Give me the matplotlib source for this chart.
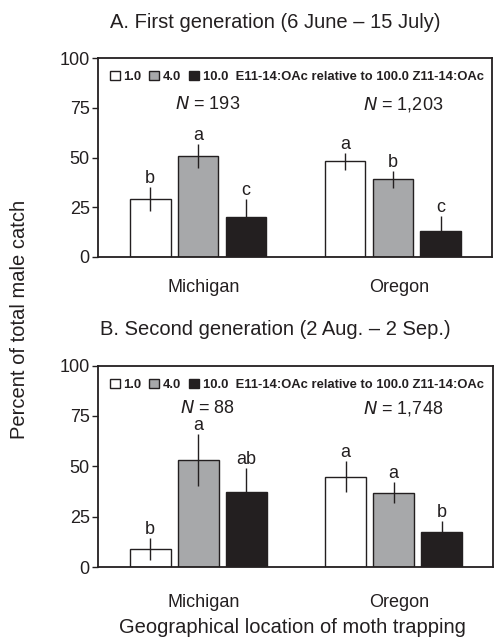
import numpy as np
import matplotlib
matplotlib.use('Agg')
import matplotlib.pyplot as plt

plt.rcParams['font.family'] = 'Liberation Sans'
plt.rcParams['text.color'] = '#231f20'
plt.rcParams['axes.edgecolor'] = '#231f20'
plt.rcParams['xtick.color'] = '#231f20'
plt.rcParams['ytick.color'] = '#231f20'

locations = ['Michigan', 'Oregon']
ratios = ['1.0', '4.0', '10.0']
bar_colors = ['white', '#a7a8aa', '#231f20']

# panel A: first generation
gen1_mean = {'1.0': [29.3, 48.1], '4.0': [50.9, 39.0], '10.0': [19.9, 13.1]}
gen1_se = {'1.0': [6.0, 4.4], '4.0': [6.0, 4.2], '10.0': [9.1, 7.5]}
gen1_letters = {'1.0': ['b', 'a'], '4.0': ['a', 'b'], '10.0': ['c', 'c']}
gen1_n = ['193', '1,203']

# panel B: second generation
gen2_mean = {'1.0': [9.1, 45.0], '4.0': [53.2, 37.1], '10.0': [37.3, 17.3]}
gen2_se = {'1.0': [5.5, 7.5], '4.0': [12.8, 5.2], '10.0': [11.7, 5.5]}
gen2_letters = {'1.0': ['b', 'a'], '4.0': ['a', 'a'], '10.0': ['ab', 'b']}
gen2_n = ['88', '1,748']

titles = ['A. First generation (6 June \u2013 15 July)',
          'B. Second generation (2 Aug. \u2013 2 Sep.)']

fig = plt.figure(figsize=(4.95, 6.39), dpi=100)
ax1 = fig.add_axes([0.198, 0.598, 0.796, 0.311])
ax2 = fig.add_axes([0.198, 0.112, 0.798, 0.316])

pitch = 0.246
width = 0.21
x = np.arange(len(locations))

for ax, means, ses, letters, ns, ny, title in [
        (ax1, gen1_mean, gen1_se, gen1_letters, gen1_n, 76.5, titles[0]),
        (ax2, gen2_mean, gen2_se, gen2_letters, gen2_n, 78.5, titles[1])]:
    handles = []
    for i, r in enumerate(ratios):
        xs = x + (i - 1) * pitch
        b = ax.bar(xs, means[r], width, color=bar_colors[i], edgecolor='#231f20',
                   linewidth=1.0, zorder=2)
        handles.append(b)
        ax.errorbar(xs, means[r], yerr=ses[r], fmt='none', ecolor='#231f20',
                    elinewidth=1.0, capsize=0, zorder=3)
        for xx, m, s, lt in zip(xs, means[r], ses[r], letters[r]):
            ax.annotate(lt, (xx, m + s), xytext=(0, 0), textcoords='offset points',
                        ha='center', va='bottom', fontsize=13)
    for xx, n in zip(x, ns):
        ax.text(xx + 0.05, ny, '$\\it{N}$ = ' + n, ha='center', va='center', fontsize=13)
    ax.legend(handles, ['1.0', '4.0', '10.0  E11-14:OAc relative to 100.0 Z11-14:OAc'],
              ncol=3, loc='center left', bbox_to_anchor=(0.0, 0.905), frameon=False,
              prop={'weight': 'bold', 'size': 9.4}, handlelength=0.75, handleheight=0.75,
              handletextpad=0.3, columnspacing=0.6, borderaxespad=0.5)
    ax.set_xlim(-0.513, 1.508)
    ax.set_ylim(0, 100)
    ax.set_yticks([0, 25, 50, 75, 100])
    ax.set_xticks(x + 0.03)
    ax.set_xticklabels(locations, fontsize=13)
    ax.tick_params(axis='y', length=4, width=1, labelsize=13, pad=2)
    for sp in ax.spines.values():
        sp.set_linewidth(1.3)
    ax.set_title(title, fontsize=14.5, pad=22, x=0.45)

ax1.tick_params(axis='x', length=0, pad=16)
ax2.tick_params(axis='x', length=0, pad=19)

fig.text(0.04, 0.5, 'Percent of total male catch', rotation=90, ha='center',
         va='center', fontsize=14.5)
fig.text(0.59, 0.018, 'Geographical location of moth trapping', ha='center',
         va='center', fontsize=14.5)

fig.savefig('out.png', dpi=100)
